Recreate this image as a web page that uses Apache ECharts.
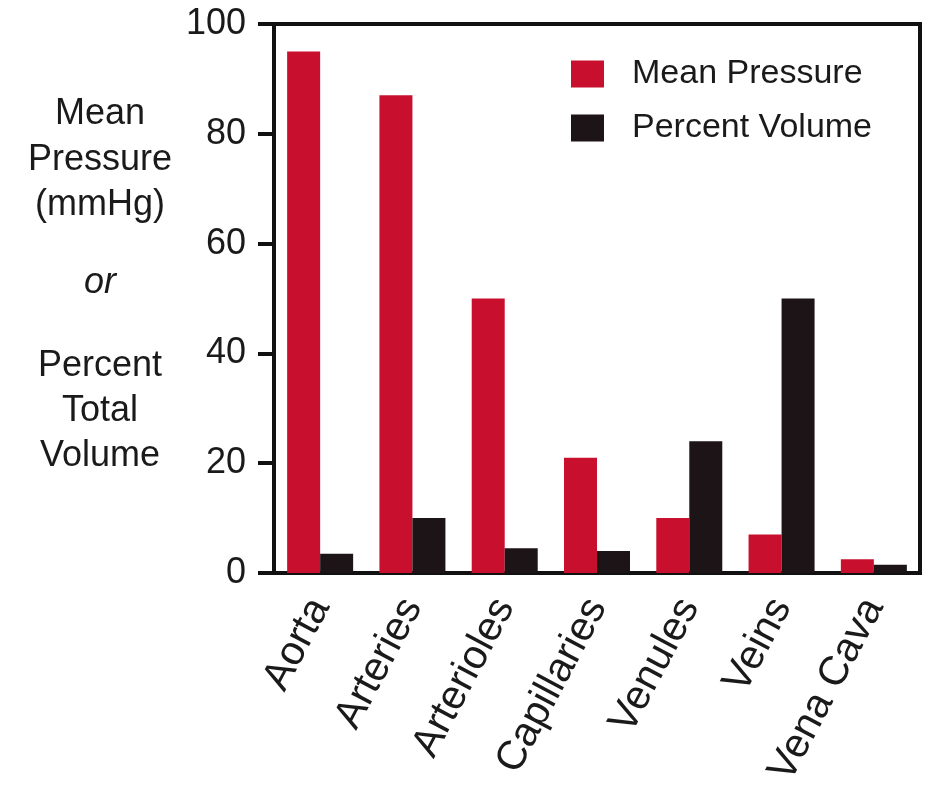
<!DOCTYPE html>
<html>
<head>
<meta charset="utf-8">
<script src="https://cdn.jsdelivr.net/npm/echarts@6/dist/echarts.min.js"></script>
<style>
html,body{margin:0;padding:0;background:#fff;}
#chart{width:936px;height:794px;}
</style>
</head>
<body>
<div id="chart"></div>
<script>
const categories = ['Aorta', 'Arteries', 'Arterioles', 'Capillaries', 'Venules', 'Veins', 'Vena Cava'];
const meanPressure = [95, 87, 50, 21, 10, 7, 2.5];
const percentVolume = [3.5, 10, 4.5, 4, 24, 50, 1.5];
const seriesNames = ['Mean Pressure', 'Percent Volume'];
const yTitleLines = ['Mean', 'Pressure', '(mmHg)', 'or', 'Percent', 'Total', 'Volume'];
const yTitleY = [114, 160, 205, 283, 366, 411, 456];

const FONT = '"Liberation Sans", Arial, Helvetica, sans-serif';
const RED = '#c8102e';
const BLACK = '#1c1416';
const INK = '#1a1a1a';

const chart = echarts.init(document.getElementById('chart'), null, {renderer: 'canvas'});

const titleTexts = yTitleLines.map((t, i) => ({
  type: 'text',
  x: 0,
  y: 0,
  style: {
    text: t,
    x: 100,
    y: yTitleY[i],
    align: 'center',
    verticalAlign: 'middle',
    fontFamily: FONT,
    fontSize: 36,
    fontStyle: t === 'or' ? 'italic' : 'normal',
    fill: INK
  }
}));

chart.setOption({
  backgroundColor: '#ffffff',
  animation: false,
  textStyle: {fontFamily: FONT},
  grid: {
    left: 274, right: 16, top: 24, bottom: 221,
    show: true, borderColor: '#111', borderWidth: 4, backgroundColor: 'transparent'
  },
  legend: {
    orient: 'vertical',
    left: 571, top: 57,
    itemWidth: 33, itemHeight: 27, itemGap: 20,
    padding: 0,
    icon: 'rect',
    data: seriesNames,
    formatter: '{a|{name}}',
    textStyle: {
      color: INK, fontSize: 34, fontFamily: FONT,
      rich: {a: {fontSize: 34, fontFamily: FONT, color: INK, padding: [0, 0, 0, 23], lineHeight: 38}}
    }
  },
  xAxis: {
    type: 'category',
    data: categories,
    axisLine: {show: true, lineStyle: {color: '#111', width: 4}},
    axisTick: {show: false},
    axisLabel: {
      rotate: 62, margin: 28, fontSize: 41, color: INK, fontFamily: FONT, interval: 0
    },
    splitLine: {show: false}
  },
  yAxis: {
    type: 'value',
    min: 0, max: 100, interval: 20,
    axisLine: {show: true, lineStyle: {color: '#111', width: 4}},
    axisTick: {show: true, length: 16, lineStyle: {color: '#111', width: 4}},
    axisLabel: {fontSize: 36, color: INK, fontFamily: FONT, margin: 28},
    splitLine: {show: false}
  },
  series: [
    {
      name: seriesNames[0], type: 'bar', data: meanPressure,
      barWidth: 33, barGap: '0%',
      itemStyle: {color: RED}
    },
    {
      name: seriesNames[1], type: 'bar', data: percentVolume,
      barWidth: 33, barGap: '0%',
      itemStyle: {color: BLACK}
    }
  ],
  graphic: titleTexts
});
</script>
</body>
</html>
